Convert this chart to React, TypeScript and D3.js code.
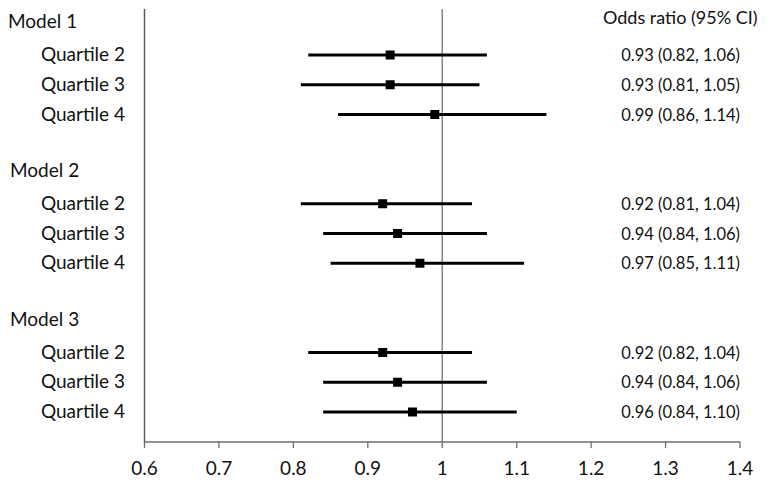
import React from "react";
import * as d3 from "d3";

const groups = ["Model 1", "Model 2", "Model 3"];
const quartiles = ["Quartile 2", "Quartile 3", "Quartile 4"];
const oddsRatio = [
  [0.93, 0.93, 0.99],
  [0.92, 0.94, 0.97],
  [0.92, 0.94, 0.96],
];
const lowerCI = [
  [0.82, 0.81, 0.86],
  [0.81, 0.84, 0.85],
  [0.82, 0.84, 0.84],
];
const upperCI = [
  [1.06, 1.05, 1.14],
  [1.04, 1.06, 1.11],
  [1.04, 1.06, 1.1],
];
const xTicks = [0.6, 0.7, 0.8, 0.9, 1.0, 1.1, 1.2, 1.3, 1.4];
const headerLabel = "Odds ratio (95% CI)";

const W = 770;
const H = 485;
const FONT = "Lato, 'Liberation Sans', sans-serif";

export default function App() {
  const x = d3.scaleLinear().domain([0.6, 1.4]).range([144.5, 740]);
  // row index: each model takes a header row + 3 quartile rows + blank row
  const y = d3.scaleLinear().domain([0, 13]).range([25.25, 412]);
  const axisY = 442;
  const fmt = (v: number) => (v === 1 ? "1" : d3.format(".1f")(v));
  const f2 = d3.format(".2f");

  const rows: any[] = [];
  groups.forEach((g, gi) => {
    quartiles.forEach((q, qi) => {
      rows.push({
        g: gi,
        label: q,
        k: gi * 5 + qi + 1,
        or: oddsRatio[gi][qi],
        lo: lowerCI[gi][qi],
        hi: upperCI[gi][qi],
      });
    });
  });

  const ms = 9;

  return (
    <svg
      width={W}
      height={H}
      style={{ position: "absolute", left: 0, top: 0, background: "#fff" }}
      fontFamily={FONT}
    >
      <rect x={0} y={0} width={W} height={H} fill="#fff" />
      {/* left vertical line */}
      <line x1={x(0.6)} x2={x(0.6)} y1={9} y2={axisY} stroke="#5a5a5a" strokeWidth={1.5} />
      {/* reference line at 1 */}
      <line x1={x(1)} x2={x(1)} y1={9} y2={axisY} stroke="#858585" strokeWidth={1.5} />
      {/* x axis */}
      <line x1={x(0.6)} x2={x(1.4)} y1={axisY} y2={axisY} stroke="#6e6e6e" strokeWidth={1.3} />
      {xTicks.map((t) => (
        <g key={t}>
          <line x1={x(t)} x2={x(t)} y1={axisY} y2={axisY + 6} stroke="#6e6e6e" strokeWidth={1.3} />
          <text x={x(t)} y={axisY + 33} textAnchor="middle" fontSize={19} fill="#111">
            {fmt(t)}
          </text>
        </g>
      ))}

      {/* group headers */}
      {groups.map((g, gi) => (
        <text key={g} x={gi === 0 ? 8 : 10} y={y(gi * 5) + 3} fontSize={19} fill="#111">
          {g}
        </text>
      ))}

      {/* header on the right */}
      <text x={603} y={24} fontSize={18} fill="#111">
        {headerLabel}
      </text>

      {rows.map((r, i) => (
        <g key={i}>
          <text x={125} y={y(r.k) + 6} textAnchor="end" fontSize={19} fill="#111">
            {r.label}
          </text>
          <line x1={x(r.lo)} x2={x(r.hi)} y1={y(r.k)} y2={y(r.k)} stroke="#000" strokeWidth={3} />
          <rect x={x(r.or) - ms / 2} y={y(r.k) - ms / 2} width={ms} height={ms} fill="#000" />
          <text x={740} y={y(r.k) + 6} textAnchor="end" fontSize={16.5} fill="#111">
            {`${f2(r.or)} (${f2(r.lo)}, ${f2(r.hi)})`}
          </text>
        </g>
      ))}
    </svg>
  );
}
